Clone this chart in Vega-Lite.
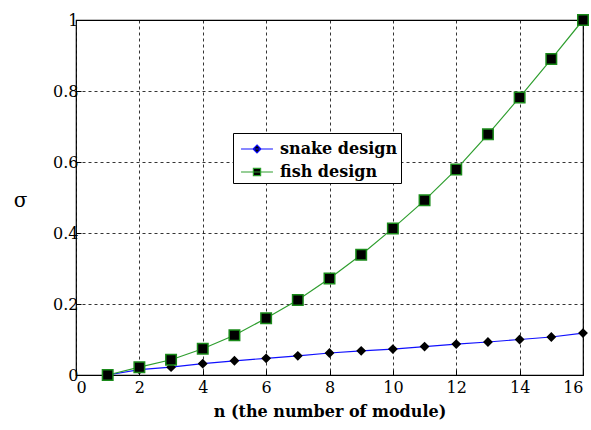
{
  "$schema": "https://vega.github.io/schema/vega-lite/v6.json",
  "width": 507,
  "height": 355,
  "autosize": {"type": "none"},
  "padding": {"left": 76, "top": 20, "right": 8, "bottom": 55},
  "background": "white",
  "config": {
    "view": {"stroke": "black", "strokeWidth": 1.2},
    "font": "DejaVu Serif",
    "axis": {
      "grid": true,
      "gridColor": "black",
      "gridDash": [3, 3],
      "gridOpacity": 1,
      "gridWidth": 0.8,
      "domain": false,
      "tickColor": "black",
      "tickSize": -5,
      "labelFont": "DejaVu Serif",
      "labelFontSize": 16,
      "labelColor": "black",
      "titleColor": "black"
    }
  },
  "data": {
    "values": [
      {"n": 1, "sigma": 0.0, "design": "snake design", "series": "snake design"},
      {"n": 2, "sigma": 0.015, "design": "snake design", "series": "snake design"},
      {"n": 3, "sigma": 0.022, "design": "snake design", "series": "snake design"},
      {"n": 4, "sigma": 0.032, "design": "snake design", "series": "snake design"},
      {"n": 5, "sigma": 0.04, "design": "snake design", "series": "snake design"},
      {"n": 6, "sigma": 0.047, "design": "snake design", "series": "snake design"},
      {"n": 7, "sigma": 0.054, "design": "snake design", "series": "snake design"},
      {"n": 8, "sigma": 0.062, "design": "snake design", "series": "snake design"},
      {"n": 9, "sigma": 0.068, "design": "snake design", "series": "snake design"},
      {"n": 10, "sigma": 0.073, "design": "snake design", "series": "snake design"},
      {"n": 11, "sigma": 0.08, "design": "snake design", "series": "snake design"},
      {"n": 12, "sigma": 0.087, "design": "snake design", "series": "snake design"},
      {"n": 13, "sigma": 0.093, "design": "snake design", "series": "snake design"},
      {"n": 14, "sigma": 0.1, "design": "snake design", "series": "snake design"},
      {"n": 15, "sigma": 0.107, "design": "snake design", "series": "snake design"},
      {"n": 16, "sigma": 0.118, "design": "snake design", "series": "snake design"},
      {"n": 1, "sigma": 0.0, "design": "fish design", "series": "fish design"},
      {"n": 2, "sigma": 0.022, "design": "fish design", "series": "fish design"},
      {"n": 3, "sigma": 0.043, "design": "fish design", "series": "fish design"},
      {"n": 4, "sigma": 0.074, "design": "fish design", "series": "fish design"},
      {"n": 5, "sigma": 0.112, "design": "fish design", "series": "fish design"},
      {"n": 6, "sigma": 0.16, "design": "fish design", "series": "fish design"},
      {"n": 7, "sigma": 0.211, "design": "fish design", "series": "fish design"},
      {"n": 8, "sigma": 0.272, "design": "fish design", "series": "fish design"},
      {"n": 9, "sigma": 0.339, "design": "fish design", "series": "fish design"},
      {"n": 10, "sigma": 0.413, "design": "fish design", "series": "fish design"},
      {"n": 11, "sigma": 0.492, "design": "fish design", "series": "fish design"},
      {"n": 12, "sigma": 0.579, "design": "fish design", "series": "fish design"},
      {"n": 13, "sigma": 0.678, "design": "fish design", "series": "fish design"},
      {"n": 14, "sigma": 0.782, "design": "fish design", "series": "fish design"},
      {"n": 15, "sigma": 0.89, "design": "fish design", "series": "fish design"},
      {"n": 16, "sigma": 1.0, "design": "fish design", "series": "fish design"}
    ]
  },
  "encoding": {
    "x": {
      "field": "n",
      "type": "quantitative",
      "scale": {"domain": [0, 16], "nice": false},
      "axis": {
        "values": [0, 2, 4, 6, 8, 10, 12, 14, 16],
        "title": "n (the number of module)",
        "labelPadding": 9,
        "titleFont": "DejaVu Serif",
        "titleFontSize": 16,
        "titleFontWeight": "bold",
        "titlePadding": 8
      }
    },
    "y": {
      "field": "sigma",
      "type": "quantitative",
      "scale": {"domain": [0, 1], "nice": false},
      "axis": {
        "values": [0, 0.2, 0.4, 0.6, 0.8, 1],
        "format": "~g",
        "labelPadding": 3,
        "title": "σ",
        "titleAngle": 0,
        "titleFontSize": 20,
        "titleFontWeight": "normal",
        "titleBaseline": "middle",
        "titleX": -56,
        "titleY": 180
      }
    }
  },
  "layer": [
    {
      "mark": {"type": "line", "strokeWidth": 1.2},
      "encoding": {
        "color": {
          "field": "series",
          "type": "nominal",
          "sort": ["snake design", "fish design"],
          "scale": {"domain": ["snake design", "fish design"], "range": ["#1010ff", "#2e9e2e"]},
          "legend": {
            "title": null,
            "orient": "none",
            "legendX": 157,
            "legendY": 113,
            "fillColor": "white",
            "strokeColor": "black",
            "padding": 3,
            "labelFont": "DejaVu Serif",
            "labelFontSize": 16,
            "labelFontWeight": "bold",
            "labelColor": "black",
            "labelOffset": 10,
            "symbolType": "M-1.33,0H1.33M-0.3,-0.3H0.3V0.3H-0.3Z",
            "symbolSize": 576,
            "symbolOffset": 8,
            "symbolStrokeWidth": 1.2,
            "symbolFillColor": "black",
            "rowPadding": 2,
            "encode": {
              "symbols": {
                "update": {
                  "shape": {"signal": "datum.value == 'snake design' ? 'M-1.33,0H1.33M0,-0.33L0.33,0L0,0.33L-0.33,0Z' : 'M-1.33,0H1.33M-0.3,-0.3H0.3V0.3H-0.3Z'"},
                  "fill": {"value": "black"}
                }
              }
            }
          }
        }
      }
    },
    {
      "mark": {"type": "point", "filled": true, "fill": "black", "opacity": 1, "strokeWidth": 1.5},
      "encoding": {
        "shape": {
          "field": "design",
          "type": "nominal",
          "scale": {"range": ["square", "diamond"]},
          "legend": null
        },
        "stroke": {
          "field": "design",
          "type": "nominal",
          "scale": {"range": ["#1a8a1a", "black"]},
          "legend": null
        },
        "size": {
          "field": "design",
          "type": "nominal",
          "scale": {"range": [110, 60]},
          "legend": null
        }
      }
    }
  ]
}
